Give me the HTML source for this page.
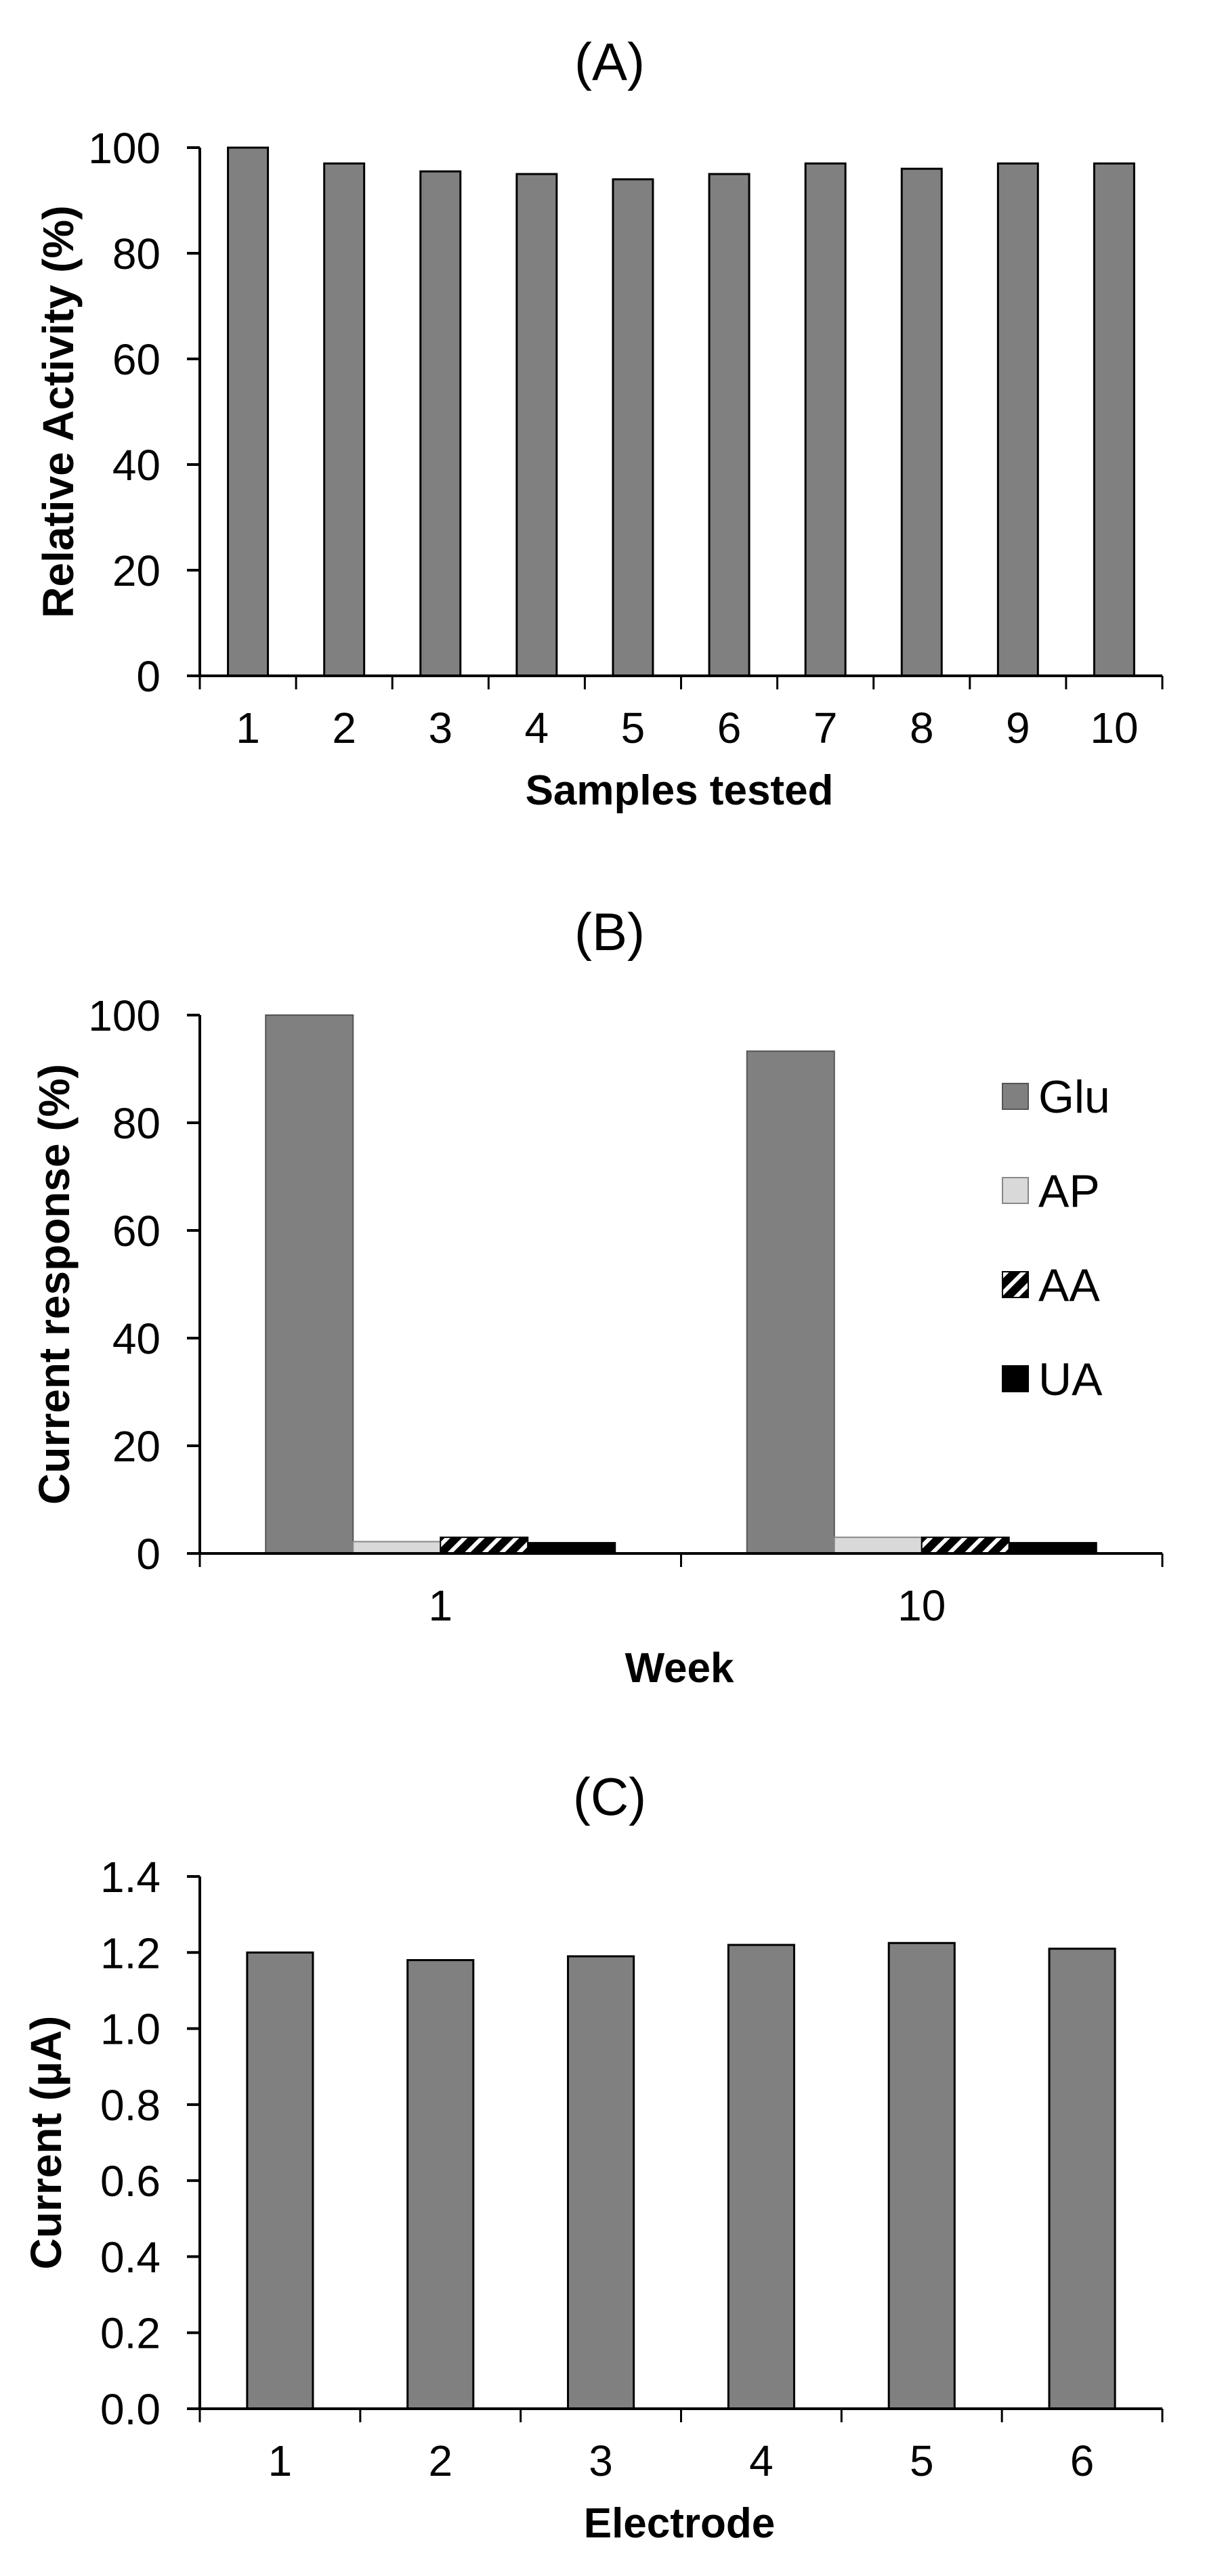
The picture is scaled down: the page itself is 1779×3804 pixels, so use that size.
<!DOCTYPE html>
<html><head><meta charset="utf-8"><style>
html,body{margin:0;padding:0;background:#fff;}
svg{display:block;font-family:"Liberation Sans",sans-serif;}
</style></head><body>
<svg id="fig" width="1779" height="3804" viewBox="0 0 1779 3804" xmlns="http://www.w3.org/2000/svg">
<defs>
<pattern id="hatch" patternUnits="userSpaceOnUse" width="18" height="18" patternTransform="rotate(45)">
<rect width="18" height="18" fill="#000"/><rect x="0" y="0" width="6" height="18" fill="#fff"/>
</pattern>
</defs>
<g id="root"></g>
</svg>
<script>
// Panel A data
const catsA = ["1","2","3","4","5","6","7","8","9","10"];
const valsA = [100, 97, 95.5, 95, 94, 95, 97, 96, 97, 97];
const ticksA = [0, 20, 40, 60, 80, 100];
// Panel B data
const catsB = ["1","10"];
const seriesNamesB = ["Glu","AP","AA","UA"];
const gluB = [100, 93.3];
const apB = [2.2, 3];
const aaB = [3, 3];
const uaB = [2, 2];
const ticksB = [0, 20, 40, 60, 80, 100];
// Panel C data
const catsC = ["1","2","3","4","5","6"];
const valsC = [1.20, 1.18, 1.19, 1.22, 1.225, 1.21];
const ticksC = [0.0, 0.2, 0.4, 0.6, 0.8, 1.0, 1.2, 1.4];
const tickLabelsC = ["0.0","0.2","0.4","0.6","0.8","1.0","1.2","1.4"];

const NS = "http://www.w3.org/2000/svg";
const root = document.getElementById("root");
function mk(tag, attrs, parent) {
  const e = document.createElementNS(NS, tag);
  for (const k in attrs) e.setAttribute(k, attrs[k]);
  (parent || root).appendChild(e);
  return e;
}

function panel(cfg) {
  const g = mk("g", {});
  
  
  const x0 = 295, x1 = 1716;
  const y = v => cfg.yBot - (v - cfg.min) / (cfg.max - cfg.min) * (cfg.yBot - cfg.yTop);
  // title
  const t = mk("text", {x: 900, y: cfg.titleY, "font-size": 78, "text-anchor": "middle"}, g);
  t.textContent = cfg.title;
  
  
  // bars
  cfg.drawBars(g, y, x0, x1);
  // y axis
  const ya = mk("line", {x1: x0, y1: y(cfg.max), x2: x0, y2: cfg.yBot, stroke: "#000", "stroke-width": 4}, g);
  
  
  cfg.ticks.forEach((v, i) => {
    const ty = y(v);
    const tk = mk("line", {x1: x0 - 19, y1: ty, x2: x0, y2: ty, stroke: "#000", "stroke-width": 4}, g);
    
    
    const lb = mk("text", {x: 237, y: ty + 23, "font-size": 64, "text-anchor": "end"}, g);
    lb.textContent = cfg.tickLabels ? cfg.tickLabels[i] : String(v);
    
    
  });
  // x axis
  const xa = mk("line", {x1: x0 - 19, y1: cfg.yBot, x2: x1, y2: cfg.yBot, stroke: "#000", "stroke-width": 4}, g);
  
  
  const n = cfg.cats.length, cw = (x1 - x0) / n;
  for (let i = 0; i <= n; i++) {
    const tx = x0 + i * cw;
    const tk = mk("line", {x1: tx, y1: cfg.yBot, x2: tx, y2: cfg.yBot + 20, stroke: "#000", "stroke-width": 3}, g);
    
    
  }
  cfg.cats.forEach((c, i) => {
    const lb = mk("text", {x: x0 + (i + 0.5) * cw, y: cfg.yBot + 99, "font-size": 64, "text-anchor": "middle"}, g);
    lb.textContent = c;
    
    
  });
  const xt = mk("text", {x: 1003, y: cfg.yBot + 190, "font-size": 62, "font-weight": "bold", "text-anchor": "middle"}, g);
  xt.textContent = cfg.xTitle;
  
  
  const ytx = cfg.yTitleX, yty = (y(cfg.max) + cfg.yBot) / 2;
  const yt = mk("text", {x: ytx, y: yty, "font-size": 64, "font-weight": "bold", "text-anchor": "middle", transform: `rotate(-90 ${ytx} ${yty})`}, g);
  yt.textContent = cfg.yTitle;
  
  
}

function simpleBars(cats, vals, frac) {
  return (g, y, x0, x1) => {
    const cw = (x1 - x0) / cats.length, bw = cw * frac;
    vals.forEach((v, i) => {
      const bx = x0 + (i + 0.5) * cw - bw / 2;
      const r = mk("rect", {x: bx, y: y(v), width: bw, height: y(0) - y(v), fill: "#808080", stroke: "#000", "stroke-width": 3}, g);
      
      
    });
  };
}

panel({name: "panel-a", title: "(A)", titleY: 118, yTop: 218, yBot: 998, min: 0, max: 100,
  ticks: ticksA, cats: catsA, xTitle: "Samples tested", yTitle: "Relative Activity (%)", yTitleX: 108,
  drawBars: simpleBars(catsA, valsA, 0.415)});

const seriesB = [gluB, apB, aaB, uaB];
const fillsB = ["#808080", "#d9d9d9", "url(#hatch)", "#000"];
const strokesB = ["#555", "#888", "#000", "#000"];
panel({name: "panel-b", title: "(B)", titleY: 1403, yTop: 1499, yBot: 2294, min: 0, max: 100,
  ticks: ticksB, cats: catsB, xTitle: "Week", yTitle: "Current response (%)", yTitleX: 102,
  drawBars: (g, y, x0, x1) => {
    const cw = (x1 - x0) / catsB.length, bw = 129;
    catsB.forEach((c, i) => {
      const start = x0 + (i + 0.5) * cw - bw * 2;
      seriesB.forEach((s, k) => {
        const r = mk("rect", {x: start + k * bw, y: y(s[i]), width: bw, height: y(0) - y(s[i]), fill: fillsB[k], stroke: strokesB[k], "stroke-width": 2}, g);
        
        
      });
    });
    seriesNamesB.forEach((nm, k) => {
      const cy = 1619 + k * 139;
      const sq = mk("rect", {x: 1480, y: cy - 19, width: 38, height: 38, fill: fillsB[k], stroke: strokesB[k], "stroke-width": 2}, g);
      
      
      const tx = mk("text", {x: 1533, y: cy + 24, "font-size": 68}, g);
      tx.textContent = nm;
      
      
    });
  }});

panel({name: "panel-c", title: "(C)", titleY: 2680, yTop: 2771, yBot: 3557, min: 0, max: 1.4,
  ticks: ticksC, tickLabels: tickLabelsC, cats: catsC, xTitle: "Electrode", yTitle: "Current (µA)", yTitleX: 90,
  drawBars: simpleBars(catsC, valsC, 0.41)});
</script>
</body></html>
